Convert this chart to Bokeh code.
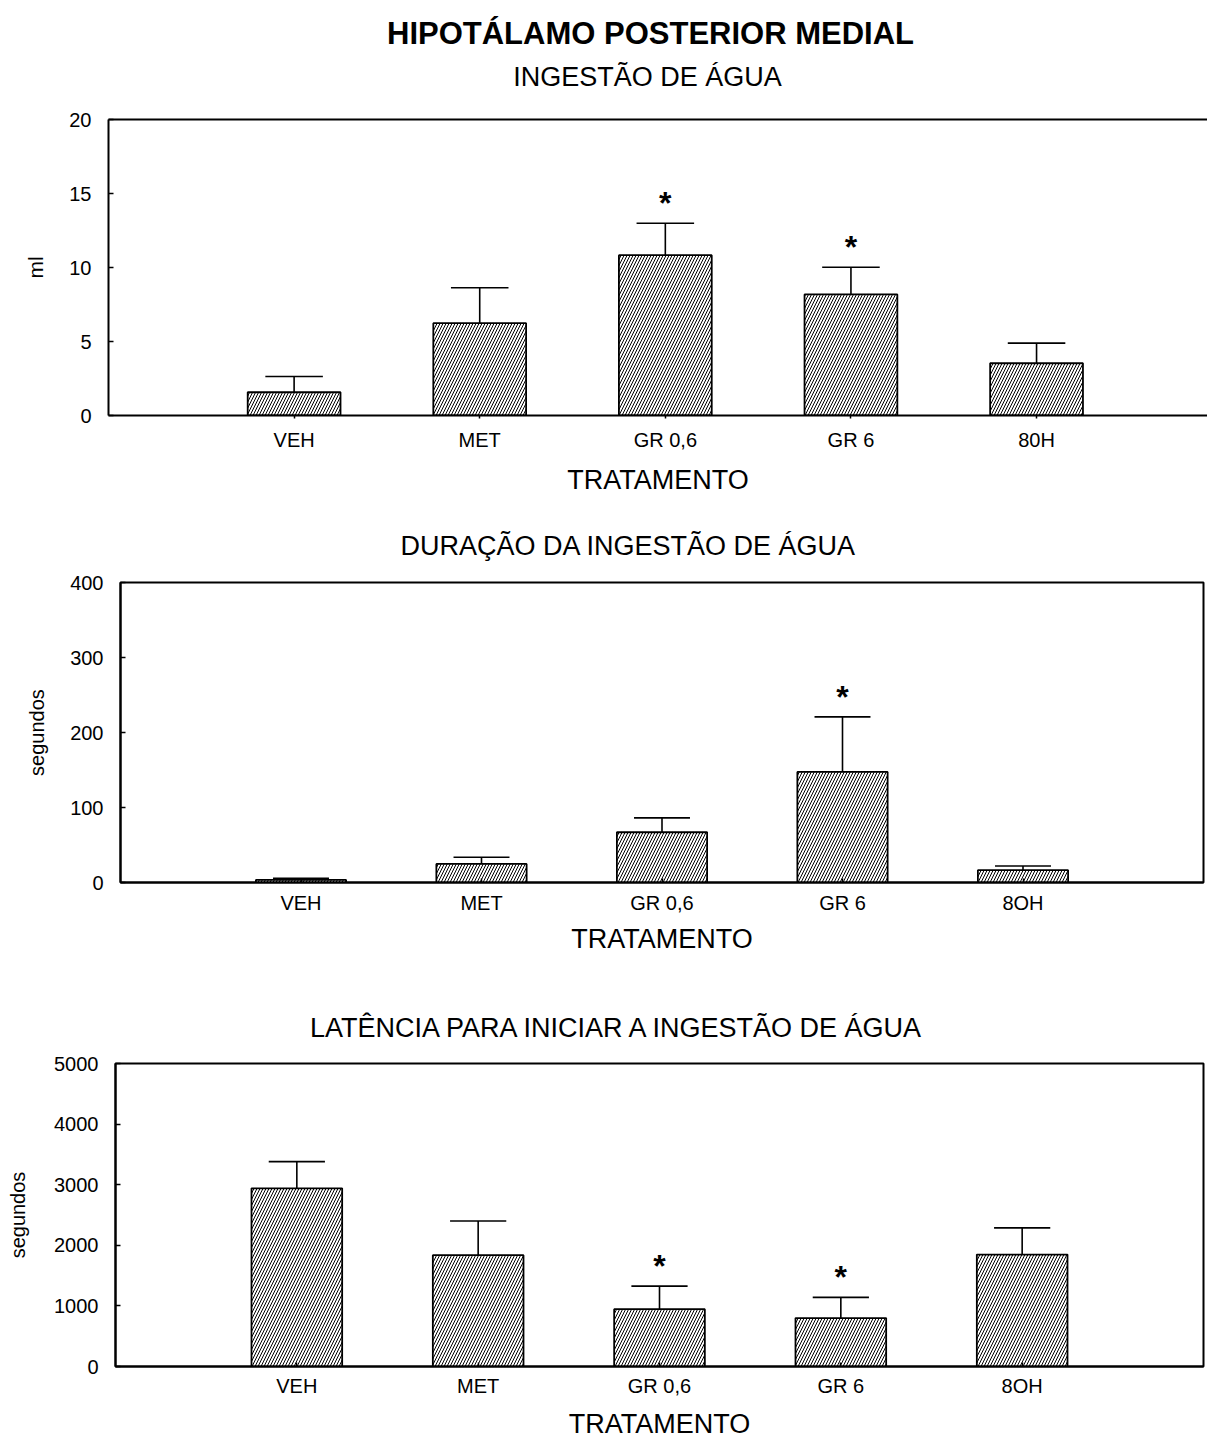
from bokeh.plotting import figure
from bokeh.models import Range1d, FixedTicker, LinearAxis, ColumnDataSource
from bokeh.embed import file_html
from bokeh.resources import INLINE
from bokeh.core.properties import value

FONT = "Liberation Sans"

# ---------------- data ----------------
cats_vol = ["VEH", "MET", "GR 0,6", "GR 6", "80H"]
cats_dur = ["VEH", "MET", "GR 0,6", "GR 6", "8OH"]
cats_lat = ["VEH", "MET", "GR 0,6", "GR 6", "8OH"]

vol_mean = [1.57, 6.24, 10.83, 8.18, 3.53]
vol_top = [2.64, 8.63, 12.99, 10.02, 4.89]
vol_sig = [False, False, True, True, False]

dur_mean = [3.5, 24.8, 67.0, 147.5, 16.4]
dur_top = [5.5, 33.7, 86.2, 220.8, 22.0]
dur_sig = [False, False, False, True, False]

lat_mean = [2940, 1837, 946, 799, 1847]
lat_top = [3380, 2402, 1326, 1141, 2288]
lat_sig = [False, False, True, True, False]

vol_ticks = [0, 5, 10, 15, 20]
dur_ticks = [0, 100, 200, 300, 400]
lat_ticks = [0, 1000, 2000, 3000, 4000, 5000]

main_title = "HIPOTÁLAMO POSTERIOR MEDIAL"
titles = ["INGESTÃO DE ÁGUA", "DURAÇÃO DA INGESTÃO DE ÁGUA",
          "LATÊNCIA PARA INICIAR A INGESTÃO DE ÁGUA"]

W = 1207


def header(height, texts, xs, ys, sizes, styles):
    h = figure(width=W, height=height, output_backend="svg", toolbar_location=None,
               title_location=None, x_range=Range1d(0, W), y_range=Range1d(height, 0),
               min_border=0, x_axis_location=None, y_axis_location=None,
               background_fill_color="white", border_fill_color="white")
    h.outline_line_color = None
    h.xgrid.visible = False
    h.ygrid.visible = False
    for t, x, y, s, st in zip(texts, xs, ys, sizes, styles):
        h.text(x=[x], y=[y], text=[t], text_align="center", text_baseline="middle",
               text_font=value(FONT), text_font_size=s, text_font_style=st,
               text_color="black")
    return h


def panel(cats, means, tops, sig, yticks, ylabel, height, borders, xend,
          full_box, ylabel_size, ylabel_standoff, tick_in, tick_out,
          cat_standoff, xlabel_standoff):
    top_b, bottom_b, left_b, right_b = borders
    p = figure(width=W, height=height, output_backend="svg", toolbar_location=None,
               title_location=None,
               x_range=Range1d(0, xend), y_range=Range1d(yticks[0], yticks[-1]),
               min_border_top=top_b, min_border_bottom=bottom_b,
               min_border_left=left_b, min_border_right=right_b,
               background_fill_color="white", border_fill_color="white")
    p.xgrid.visible = False
    p.ygrid.visible = False
    if full_box:
        p.outline_line_color = "black"
        p.outline_line_width = 2
        p.outline_line_alpha = 1
    else:
        p.outline_line_color = None

    xs = [i + 1 for i in range(len(cats))]
    src = ColumnDataSource(dict(x=xs, mean=means, top=tops,
                                cl=[x - 0.155 for x in xs], cr=[x + 0.155 for x in xs]))
    p.vbar(x="x", top="mean", bottom=0, width=0.5, source=src,
           fill_color="white", line_color="black", line_width=1.8,
           hatch_pattern="/", hatch_color="black", hatch_scale=6, hatch_weight=1)
    p.segment(x0="x", y0="mean", x1="x", y1="top", source=src, line_color="black", line_width=1.6)
    p.segment(x0="cl", y0="top", x1="cr", y1="top", source=src, line_color="black", line_width=1.6)

    sx = [x for x, s in zip(xs, sig) if s]
    sy = [t for t, s in zip(tops, sig) if s]
    p.text(x=sx, y=sy, text=["*"] * len(sx), text_align="center", text_baseline="alphabetic",
           y_offset=-20, text_font=value(FONT), text_font_size="32px", text_font_style="bold",
           text_color="black")

    xa = p.xaxis[0]
    xa.ticker = FixedTicker(ticks=xs)
    xa.major_label_overrides = {x: c for x, c in zip(xs, cats)}
    xa.minor_tick_line_color = None
    xa.major_tick_in = tick_in
    xa.major_tick_out = tick_out
    xa.major_tick_line_width = 1.5
    xa.axis_line_width = 2
    xa.major_label_text_font = FONT
    xa.major_label_text_font_size = "20px"
    xa.major_label_text_color = "black"
    xa.major_label_standoff = cat_standoff
    xa.axis_label = "TRATAMENTO"
    xa.axis_label_text_font = FONT
    xa.axis_label_text_font_size = "27px"
    xa.axis_label_text_font_style = "normal"
    xa.axis_label_text_color = "black"
    xa.axis_label_standoff = xlabel_standoff

    ya = p.yaxis[0]
    ya.ticker = FixedTicker(ticks=yticks)
    ya.minor_tick_line_color = None
    ya.major_tick_in = 5
    ya.major_tick_out = 0
    ya.major_tick_line_width = 1.5
    ya.axis_line_width = 2
    ya.major_label_text_font = FONT
    ya.major_label_text_font_size = "20px"
    ya.major_label_text_color = "black"
    ya.major_label_standoff = 17
    ya.axis_label = ylabel
    ya.axis_label_text_font = FONT
    ya.axis_label_text_font_size = ylabel_size
    ya.axis_label_text_font_style = "normal"
    ya.axis_label_text_color = "black"
    ya.axis_label_standoff = ylabel_standoff
    return p


# Header 1 (page y 0..100)
h1 = header(100, [main_title, titles[0]], [650, 647], [33, 76],
            ["31px", "27px"], ["bold", "normal"])
# Panel 1 (frame page x 108..1207, y 119..415)
p1 = panel(cats_vol, vol_mean, vol_top, vol_sig, vol_ticks, "ml", 405,
           (19, 90, 108, 0), 5.921, False, "21px", 19, 0, 3, 10, 11)
top_axis = LinearAxis(ticker=FixedTicker(ticks=[]), axis_line_width=2,
                      major_tick_line_color=None, minor_tick_line_color=None,
                      major_label_text_font_size="0px")
p1.add_layout(top_axis, "above")

# Header 2 (page y 505..565)
h2 = header(60, [titles[1]], [628], [40], ["27px"], ["normal"])
# Panel 2 (frame page x 120..1203, y 582..882)
p2 = panel(cats_dur, dur_mean, dur_top, dur_sig, dur_ticks, "segundos", 420,
           (17, 103, 120, 4), 6, True, "20px", 19, 4, 0, 9, 7)

# Header 3 (page y 985..1043)
h3 = header(58, [titles[2]], [618], [42], ["27px"], ["normal"])
# Panel 3 (frame page x 115..1203, y 1063..1370)
p3 = panel(cats_lat, lat_mean, lat_top, lat_sig, lat_ticks, "segundos", 398,
           (20, 71, 115, 4), 6, True, "20px", 22, 4, 0, 8, 9)

open("out.html", "w").write(file_html([h1, p1, h2, p2, h3, p3], INLINE))
